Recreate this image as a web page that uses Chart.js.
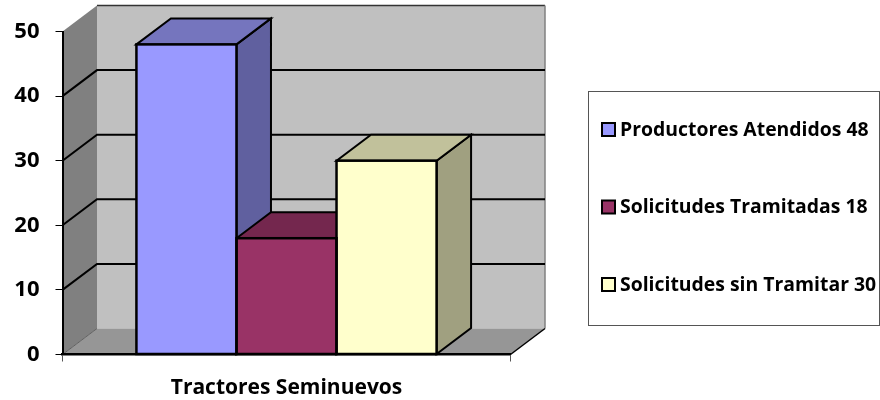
<!DOCTYPE html>
<html>
<head>
<meta charset="utf-8">
<style>
  html, body { margin: 0; padding: 0; background: #fff; }
  canvas { display: block; }
</style>
<script src="https://cdn.jsdelivr.net/npm/chart.js@4"></script>
</head>
<body>
<canvas id="chartCanvas" width="880" height="400"></canvas>
<script>
const categories = ['Tractores Seminuevos'];
const seriesNames = ['Productores Atendidos', 'Solicitudes Tramitadas', 'Solicitudes sin Tramitar'];
const productores = [48];
const tramitadas = [18];
const sinTramitar = [30];
const seriesColors = ['#9999FF', '#993366', '#FFFFCC'];
const topColors = ['#7575BE', '#74274E', '#C1C19B'];
const sideColors = ['#60609F', '#60203F', '#A0A080'];

const depthX = 34.5;
const depthY = -26;
const fontName = 'Open Sans';

function fillPoly(ctx, pts, fill, stroke, lw) {
  ctx.beginPath();
  pts.forEach((p, i) => i ? ctx.lineTo(p[0], p[1]) : ctx.moveTo(p[0], p[1]));
  ctx.closePath();
  if (fill) {
    ctx.fillStyle = fill;
    ctx.fill();
  }
  if (stroke) {
    ctx.strokeStyle = stroke;
    ctx.lineWidth = lw;
    ctx.stroke();
  }
}

// walls, floor and the depth faces of the bars
const walls3d = {
  id: 'walls3d',
  beforeDatasetsDraw(chart) {
    const ctx = chart.ctx;
    const { left, right, top, bottom } = chart.chartArea;
    ctx.save();
    fillPoly(ctx, [[left + depthX, top + depthY], [right + depthX, top + depthY], [right + depthX, bottom + depthY], [left + depthX, bottom + depthY]], '#C0C0C0');
    fillPoly(ctx, [[left, top], [left + depthX, top + depthY], [left + depthX, bottom + depthY], [left, bottom]], '#808080');
    fillPoly(ctx, [[left, bottom], [left + depthX, bottom + depthY], [right + depthX, bottom + depthY], [right, bottom]], '#969696');

    ctx.lineCap = 'butt';
    ctx.strokeStyle = '#333';
    ctx.lineWidth = 1.5;
    ctx.beginPath();
    ctx.moveTo(left + depthX, top + depthY);
    ctx.lineTo(right + depthX, top + depthY);
    ctx.stroke();
    ctx.strokeStyle = '#808080';
    ctx.beginPath();
    ctx.moveTo(right + depthX, top + depthY);
    ctx.lineTo(right + depthX, bottom + depthY);
    ctx.stroke();
    ctx.strokeStyle = '#606060';
    ctx.lineWidth = 1;
    ctx.beginPath();
    ctx.moveTo(left, bottom);
    ctx.lineTo(left + depthX, bottom + depthY);
    ctx.stroke();
    ctx.strokeStyle = '#000';
    ctx.lineWidth = 1.5;
    ctx.beginPath();
    ctx.moveTo(right, bottom);
    ctx.lineTo(right + depthX, bottom + depthY);
    ctx.stroke();

    // gridlines run along the side wall and the back wall
    const yScale = chart.scales.y;
    ctx.strokeStyle = '#000';
    ctx.lineWidth = 2;
    yScale.ticks.forEach(t => {
      if (t.value === 0 || t.value === yScale.max) return;
      const y = yScale.getPixelForValue(t.value);
      ctx.beginPath();
      ctx.moveTo(left, y);
      ctx.lineTo(left + depthX, y + depthY);
      ctx.lineTo(right + depthX, y + depthY);
      ctx.stroke();
    });

    chart.data.datasets.forEach((ds, i) => {
      chart.getDatasetMeta(i).data.forEach(bar => {
        const p = bar.getProps(['x', 'y', 'base', 'width'], true);
        const l = p.x - p.width / 2;
        const r = p.x + p.width / 2;
        fillPoly(ctx, [[r, p.y], [r + depthX, p.y + depthY], [r + depthX, p.base + depthY], [r, p.base]], sideColors[i], '#000', 2);
        fillPoly(ctx, [[l, p.y], [l + depthX, p.y + depthY], [r + depthX, p.y + depthY], [r, p.y]], topColors[i], '#000', 2);
      });
    });
    ctx.restore();
  },
  afterDatasetsDraw(chart) {
    const ctx = chart.ctx;
    ctx.save();
    chart.data.datasets.forEach((ds, i) => {
      chart.getDatasetMeta(i).data.forEach(bar => {
        const p = bar.getProps(['x', 'y', 'base', 'width'], true);
        ctx.strokeStyle = '#000';
        ctx.lineWidth = 2.5;
        ctx.strokeRect(p.x - p.width / 2, p.y, p.width, p.base - p.y);
      });
    });
    ctx.restore();
  }
};

// boxed legend on the right, label plus value
const boxLegend = {
  id: 'boxLegend',
  afterDraw(chart) {
    const ctx = chart.ctx;
    ctx.save();
    ctx.strokeStyle = '#555';
    ctx.lineWidth = 1;
    ctx.strokeRect(588.5, 91.5, 291, 234);
    ctx.textAlign = 'left';
    ctx.textBaseline = 'middle';
    ctx.font = 'bold 19.4px "' + fontName + '"';
    chart.data.datasets.forEach((ds, i) => {
      const y = 130 + i * 77.5;
      ctx.fillStyle = seriesColors[i];
      ctx.fillRect(602, y - 7, 13, 13);
      ctx.strokeStyle = '#000';
      ctx.lineWidth = 2;
      ctx.strokeRect(602, y - 7, 13, 13);
      ctx.fillStyle = '#000';
      ctx.fillText(ds.label + ' ' + ds.data[0], 620, y);
    });
    ctx.restore();
  }
};

const ctx = document.getElementById('chartCanvas').getContext('2d');
new Chart(ctx, {
  type: 'bar',
  data: {
    labels: categories,
    datasets: [
      { label: seriesNames[0], data: productores, backgroundColor: seriesColors[0] },
      { label: seriesNames[1], data: tramitadas, backgroundColor: seriesColors[1] },
      { label: seriesNames[2], data: sinTramitar, backgroundColor: seriesColors[2] }
    ]
  },
  options: {
    responsive: false,
    animation: false,
    layout: { padding: { top: 31.5, right: 369.5, left: 0, bottom: 0 } },
    datasets: { bar: { categoryPercentage: 0.67, barPercentage: 1, borderWidth: 0 } },
    plugins: { legend: { display: false }, tooltip: { enabled: false } },
    scales: {
      x: {
        afterFit(scale) { scale.height = 45.5; },
        grid: { drawOnChartArea: false, drawTicks: true, tickLength: 7, color: '#555', offset: true },
        border: { color: '#000', width: 2.5, z: 2 },
        ticks: { color: '#000', font: { family: fontName, weight: 'bold', size: 21 }, padding: 14 }
      },
      y: {
        min: 0,
        max: 50,
        afterFit(scale) { scale.width = 62.5; },
        grid: { drawOnChartArea: false, drawTicks: true, tickLength: 7, color: '#000' },
        border: { color: '#000', width: 2, z: 2 },
        ticks: { stepSize: 10, color: '#000', font: { family: fontName, weight: 'bold', size: 22 }, padding: 16 }
      }
    }
  },
  plugins: [walls3d, boxLegend]
});
</script>
</body>
</html>
